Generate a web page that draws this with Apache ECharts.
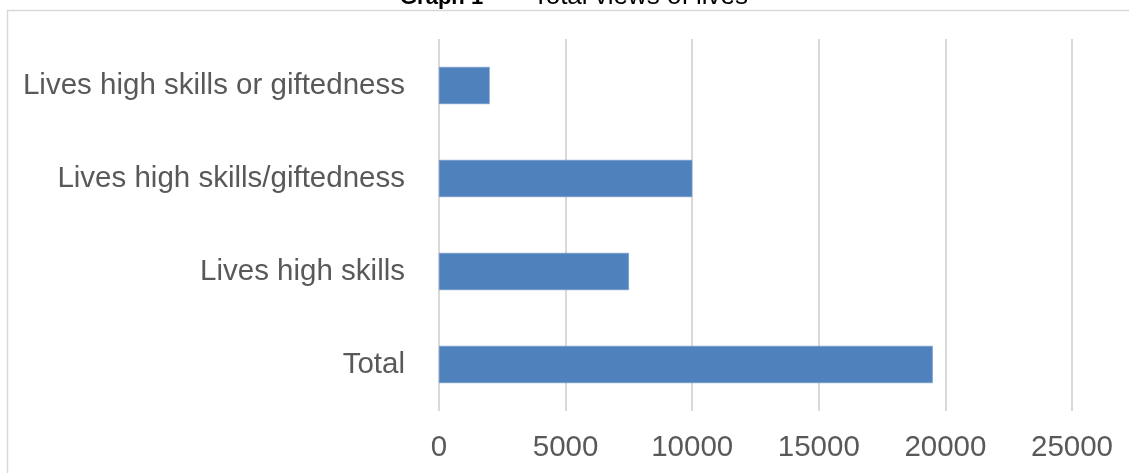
<!DOCTYPE html>
<html>
<head>
<meta charset="utf-8">
<script src="https://cdn.jsdelivr.net/npm/echarts@6/dist/echarts.min.js"></script>
<style>
html,body{margin:0;padding:0;background:#fff;}
#chart{width:1129px;height:473px;}
</style>
</head>
<body>
<div id="chart"></div>
<script>
var categories = ["Total", "Lives high skills", "Lives high skills/giftedness", "Lives high skills or giftedness"];
var views = [19500, 7500, 10000, 2000];
var xTicks = [0, 5000, 10000, 15000, 20000, 25000];
var titleBold = "Graph 1";
var titleRest = "\u2013 Total views of lives";

var chart = echarts.init(document.getElementById('chart'));
var font = "'Liberation Sans', Arial, sans-serif";
chart.setOption({
  animation: false,
  backgroundColor: '#ffffff',
  graphic: [
    {type: 'rect', shape: {x: 7.5, y: 10.5, width: 1300, height: 700}, style: {fill: 'none', stroke: '#d9d9d9', lineWidth: 1.5}, z: -1},
    {type: 'text', x: 400, y: -2, style: {text: titleBold, font: 'bold 22px ' + font, fill: '#000', verticalAlign: 'middle'}},
    {type: 'text', x: 511, y: -3, style: {text: titleRest, font: '26px ' + font, fill: '#000', verticalAlign: 'middle'}}
  ],
  grid: {left: 439, right: 57, top: 39, bottom: 62, containLabel: false},
  xAxis: {
    type: 'value',
    min: xTicks[0],
    max: xTicks[xTicks.length - 1],
    interval: xTicks[1] - xTicks[0],
    axisLine: {show: false},
    axisTick: {show: false},
    splitLine: {show: true, lineStyle: {color: '#d9d9d9', width: 2}},
    axisLabel: {color: '#595959', fontSize: 29.5, fontFamily: font, margin: 22, formatter: function (v) { return String(v); }}
  },
  yAxis: {
    type: 'category',
    data: categories,
    axisLine: {show: false},
    axisTick: {show: false},
    splitLine: {show: false},
    axisLabel: {color: '#595959', fontSize: 29.5, fontFamily: font, margin: 34}
  },
  series: [{
    type: 'bar',
    data: views,
    barWidth: '40%',
    itemStyle: {color: '#4f81bd', borderColor: '#6e97c9', borderWidth: 0.5}
  }]
});
</script>
</body>
</html>
